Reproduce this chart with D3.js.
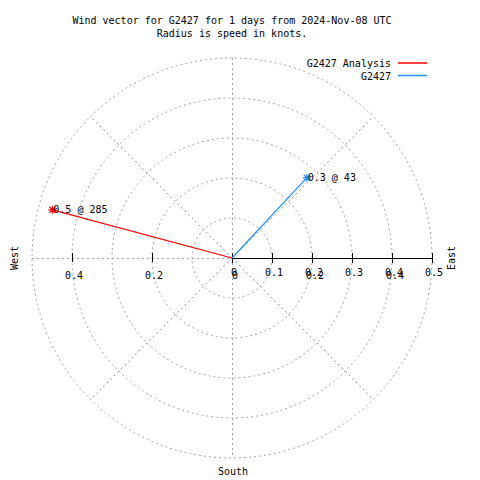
<!DOCTYPE html>
<html>
<head>
<meta charset="utf-8">
<script src="https://cdn.jsdelivr.net/npm/d3@7"></script>
<style>
  html, body { margin: 0; padding: 0; background: #fff; }
  text { font-family: "DejaVu Sans Mono", monospace; font-size: 10px; fill: #000; }
</style>
</head>
<body>
<svg id="chart" width="480" height="480"></svg>
<script>
// ---- data ----
const titleLines = ["Wind vector for G2427 for 1 days from 2024-Nov-08 UTC", "Radius is speed in knots."];
const seriesNames = ["G2427 Analysis", "G2427"];
const seriesColors = ["#ff0000", "#1e90ff"];
const speeds = [0.465, 0.274];       // knots
const directions = [285, 43];        // degrees, clockwise from north
const rings = [0.1, 0.2, 0.3, 0.4, 0.5];
const spokeAngles = [45, 135, 225, 315];
const eastTicks = [0, 0.1, 0.2, 0.3, 0.4, 0.5];
const westTicks = [0.2, 0.4];
const westLabels = [0.2, 0.4];
const overprintLabels = [0, 0.2, 0.4];

// ---- layout ----
const cx = 232, cy = 258, R = 200;
const svg = d3.select("#chart");
const r = d3.scaleLinear().domain([0, 0.5]).range([0, R]);
const xEast = d3.scaleLinear().domain([0, 0.5]).range([cx, cx + R]);
const xWest = d3.scaleLinear().domain([0, 0.5]).range([cx, cx - R]);
const gridColor = "#a0a0a0";
const dash = "2,3";

const toXY = (spd, dir) => {
  const a = dir * Math.PI / 180;
  return [cx + r(spd) * Math.sin(a), cy - r(spd) * Math.cos(a)];
};

// title
svg.selectAll("text.title").data(titleLines).join("text")
  .attr("class", "title")
  .attr("x", cx).attr("y", (d, i) => 24 + i * 13)
  .attr("text-anchor", "middle").text(d => d);

// grid rings
const grid = svg.append("g").attr("fill", "none").attr("stroke", gridColor)
  .attr("stroke-width", 1).attr("stroke-dasharray", dash);
grid.selectAll("circle").data(rings).join("circle")
  .attr("cx", cx).attr("cy", cy).attr("r", d => r(d));
// spokes
grid.selectAll("line.spoke").data(spokeAngles).join("line")
  .attr("class", "spoke")
  .attr("x1", cx).attr("y1", cy)
  .attr("x2", d => toXY(0.5, d)[0]).attr("y2", d => toXY(0.5, d)[1]);
// vertical and west horizontal
grid.append("line").attr("x1", cx + 0.5).attr("x2", cx + 0.5).attr("y1", cy - R).attr("y2", cy + R);
grid.append("line").attr("x1", cx - R).attr("x2", cx).attr("y1", cy + 0.5).attr("y2", cy + 0.5);

// east axis (solid)
const ax = svg.append("g").attr("stroke", "#000").attr("stroke-width", 1).attr("shape-rendering", "crispEdges");
ax.append("line").attr("x1", xEast(0)).attr("x2", xEast(0.5)).attr("y1", cy + 0.5).attr("y2", cy + 0.5).attr("stroke-width", 1.5);
ax.selectAll("line.et").data(eastTicks).join("line").attr("class", "et")
  .attr("x1", d => Math.round(xEast(d)) + 0.5).attr("x2", d => Math.round(xEast(d)) + 0.5)
  .attr("y1", cy - 5).attr("y2", cy + 5);
ax.selectAll("line.wt").data(westTicks).join("line").attr("class", "wt")
  .attr("x1", d => Math.round(xWest(d)) + 0.5).attr("x2", d => Math.round(xWest(d)) + 0.5)
  .attr("y1", cy - 5).attr("y2", cy + 4);

const fmt = d => d === 0 ? "0" : d3.format(".1f")(d);
svg.selectAll("text.el").data(eastTicks).join("text").attr("class", "el")
  .attr("x", d => xEast(d) + 2).attr("y", cy + 18).attr("text-anchor", "middle").text(fmt);
svg.selectAll("text.wl").data(westLabels).join("text").attr("class", "wl")
  .attr("x", d => xWest(d) + 2).attr("y", cy + 21).attr("text-anchor", "middle").text(fmt);
// overprinted copies on the east side
svg.selectAll("text.wl2").data(overprintLabels).join("text").attr("class", "wl2")
  .attr("x", d => xEast(d) + 3).attr("y", cy + 21).attr("text-anchor", "middle").text(fmt);

// compass labels
svg.append("text").attr("transform", `translate(18,${cy}) rotate(-90)`).attr("text-anchor", "middle").text("West");
svg.append("text").attr("transform", `translate(455,${cy}) rotate(-90)`).attr("text-anchor", "middle").text("East");
svg.append("text").attr("x", cx + 1).attr("y", 475).attr("text-anchor", "middle").text("South");

// vectors
const vec = speeds.map((s, i) => ({ s, d: directions[i], c: seriesColors[i], name: seriesNames[i] }));
svg.selectAll("line.vec").data(vec).join("line").attr("class", "vec")
  .attr("x1", cx).attr("y1", cy)
  .attr("x2", d => toXY(d.s, d.d)[0]).attr("y2", d => toXY(d.s, d.d)[1])
  .attr("stroke", d => d.c).attr("stroke-width", 1.2);
const star = "M-4,0H4M0,-4V4M-3,-3L3,3M-3,3L3,-3";
svg.selectAll("path.star").data(vec).join("path").attr("class", "star")
  .attr("transform", d => `translate(${toXY(d.s, d.d)})`)
  .attr("d", star).attr("stroke", d => d.c).attr("stroke-width", 1.2).attr("fill", "none");
svg.selectAll("text.vl").data(vec).join("text").attr("class", "vl")
  .attr("x", d => toXY(d.s, d.d)[0] + 1).attr("y", d => toXY(d.s, d.d)[1] + 3.5)
  .text(d => `${d3.format(".1f")(d.s)} @ ${d.d}`);

// legend
const leg = svg.selectAll("g.leg").data(vec).join("g").attr("class", "leg")
  .attr("transform", (d, i) => `translate(0,${63 + i * 12.5})`);
leg.append("text").attr("x", 391).attr("y", 4).attr("text-anchor", "end").text(d => d.name);
leg.append("line").attr("x1", 398).attr("x2", 427).attr("y1", 0).attr("y2", 0)
  .attr("stroke", d => d.c).attr("stroke-width", 1.5);
</script>
</body>
</html>
